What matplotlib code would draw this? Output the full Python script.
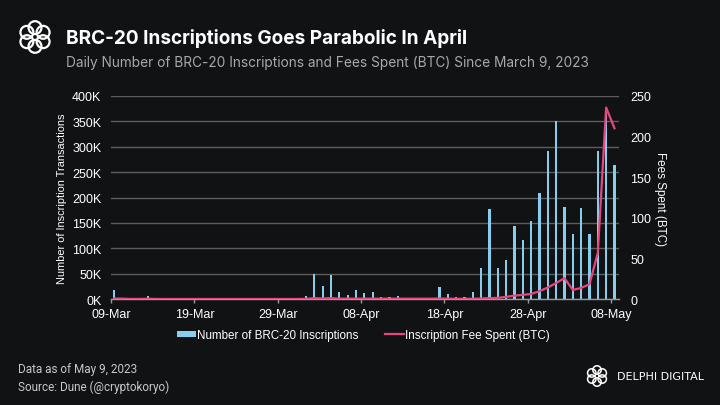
import numpy as np
import matplotlib.pyplot as plt
from matplotlib.patches import Circle

# Daily values, 09-Mar-2023 .. 08-May-2023 (61 days)
day_labels = ['09-Mar', '19-Mar', '29-Mar', '08-Apr', '18-Apr', '28-Apr', '08-May']

inscriptions_k = [
    19, 2, 0.5, 0.5, 7, 2, 0.5, 0.5, 0.3, 0.3,        # 09-18 Mar
    1.5, 2.5, 2.5, 0.3, 0.3, 0.3, 0.3, 0.3, 0.3, 0.3,  # 19-28 Mar
    0.3, 0.3, 0.5, 7, 50, 27, 48, 14.5, 9, 18,         # 29 Mar - 07 Apr
    12, 15, 4.5, 5, 7, 3, 3, 3, 3, 23.5,               # 08-17 Apr
    11, 5, 4.5, 14, 61, 177, 61, 77, 145, 117,         # 18-27 Apr
    154, 209, 292, 350, 182, 128, 179, 128, 292, 372,  # 28 Apr - 07 May
    264,                                               # 08 May
]

fees_btc = [
    1.0, 0.8, 0.5, 0.5, 0.7, 0.5, 0.4, 0.4, 0.4, 0.4,
    0.4, 0.4, 0.4, 0.4, 0.4, 0.4, 0.4, 0.4, 0.4, 0.4,
    0.4, 0.4, 0.4, 0.6, 1.5, 1.0, 1.5, 0.8, 0.8, 0.8,
    0.8, 0.8, 0.8, 0.8, 0.8, 0.8, 0.8, 0.8, 0.8, 1.0,
    0.8, 0.6, 0.6, 0.7, 1.0, 1.5, 1.8, 3.0, 4.5, 5.5,
    6.5, 10, 14.5, 20, 26, 11.5, 14, 18.5, 57, 235.5,
    210,
]

BG = '#111214'
BLUE = '#87cdee'
PINK = '#e8457c'
GRID = '#5e5e5e'

days = np.arange(len(inscriptions_k))
inscriptions = np.array(inscriptions_k) * 1000

fig = plt.figure(figsize=(7.2, 4.06), dpi=100, facecolor=BG)
ax = fig.add_axes([0.1542, 0.2603, 0.7056, 0.5015], facecolor=BG)
ax2 = ax.twinx()

bars = ax.bar(days, inscriptions, width=0.26, color=BLUE, zorder=3,
              label='Number of BRC-20 Inscriptions')
line, = ax2.plot(days, fees_btc, color=PINK, lw=1.6, zorder=4,
                 label='Inscription Fee Spent (BTC)')

ax.set_xlim(-0.4, 60.55)
ax.set_ylim(0, 400000)
ax2.set_ylim(0, 250)

ax.set_yticks(np.arange(0, 400001, 50000))
ax.set_yticklabels([f'{v // 1000}K' for v in range(0, 400001, 50000)])
ax2.set_yticks(np.arange(0, 251, 50))

# date ticks sit a little left of the daily bars
ax.set_xticks(np.arange(0, 61, 10) - 0.4)
ax.set_xticklabels(day_labels)

ax.grid(axis='y', color=GRID, lw=1.0, zorder=0)
ax.set_axisbelow(True)

for a in (ax, ax2):
    for s in a.spines.values():
        s.set_visible(False)
ax.spines['bottom'].set_visible(True)
ax.spines['bottom'].set_color('#9a9a9a')
ax.spines['bottom'].set_linewidth(1.0)
ax.spines['bottom'].set_zorder(5)

ax.tick_params(axis='x', colors='#9a9a9a', length=3, width=1, pad=3.5,
               labelcolor='white', labelsize=9)
ax.tick_params(axis='y', length=0, pad=7, labelcolor='white', labelsize=9)
ax2.tick_params(axis='y', length=0, pad=8, labelcolor='white', labelsize=9)
for lab in ax.get_xticklabels() + ax.get_yticklabels() + ax2.get_yticklabels():
    lab.set_fontfamily('Liberation Sans')

ax.set_ylabel('Number of Inscription Transactions', color='white',
              fontsize=7.9, family='Liberation Sans', va='center')
ax.yaxis.set_label_coords(-0.0965, 0.5)
ax2.set_ylabel('Fees Spent (BTC)', color='white', rotation=270,
               fontsize=8.4, family='Liberation Sans', va='center')
ax2.yaxis.set_label_coords(1.0807, 0.5)

leg = fig.legend(handles=[bars, line], loc='center', ncol=2,
                 bbox_to_anchor=(0.505, 0.172), frameon=False,
                 prop=dict(family='Liberation Sans', size=8.4),
                 handlelength=1.6, handleheight=0.5,
                 handletextpad=0.1, columnspacing=2.3)
for t in leg.get_texts():
    t.set_color('white')

# titles
fig.text(0.0917, 0.904, 'BRC-20 Inscriptions Goes Parabolic In April',
         color='white', fontsize=13.7, fontweight='bold', family='Inter',
         va='center', ha='left')
fig.text(0.0917, 0.846,
         'Daily Number of BRC-20 Inscriptions and Fees Spent (BTC) Since March 9, 2023',
         color='#a8a8a8', fontsize=9.85, family='Inter', va='center', ha='left')

# footer
fig.text(0.025, 0.0887, 'Data as of May 9, 2023', color='#c8c8c8',
         fontsize=8.5, family='Roboto', va='center')
fig.text(0.025, 0.0468, 'Source: Dune (@cryptokoryo)', color='#c8c8c8',
         fontsize=8.5, family='Roboto', va='center')
fig.text(0.857, 0.071, 'DELPHI DIGITAL', color='white', fontsize=8,
         family='DejaVu Sans', va='center', ha='left')


def draw_logo(rect, lw):
    lax = fig.add_axes(rect)
    lax.set_xlim(-1, 1)
    lax.set_ylim(-1, 1)
    lax.set_aspect('equal')
    lax.axis('off')
    for k in range(6):
        ang = np.pi / 2 + k * np.pi / 3
        lax.add_patch(Circle((0.55 * np.cos(ang), 0.55 * np.sin(ang)), 0.38,
                             fill=False, ec='white', lw=lw))


draw_logo([18 / 720, 1 - 56 / 406, 34 / 720, 36 / 406], 1.6)
draw_logo([586 / 720, 1 - 389 / 406, 22 / 720, 24 / 406], 1.1)

fig.savefig('out.png', dpi=100, facecolor=BG)
